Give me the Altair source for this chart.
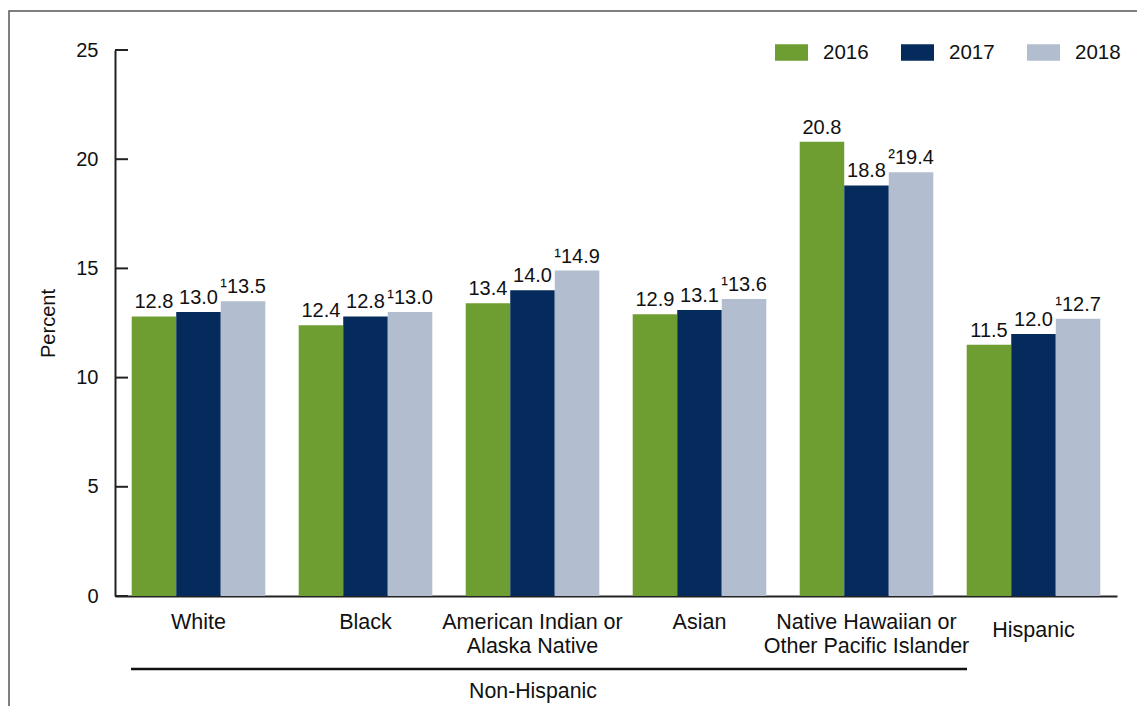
import altair as alt
import pandas as pd

# ---- data ----
categories = ["White", "Black", "American Indian or Alaska Native", "Asian",
              "Native Hawaiian or Other Pacific Islander", "Hispanic"]
label_lines = ["White", "Black", "American Indian or\nAlaska Native", "Asian",
               "Native Hawaiian or\nOther Pacific Islander", "Hispanic"]
years = ["2016", "2017", "2018"]
v2016 = [12.8, 12.4, 13.4, 12.9, 20.8, 11.5]
v2017 = [13.0, 12.8, 14.0, 13.1, 18.8, 12.0]
v2018 = [13.5, 13.0, 14.9, 13.6, 19.4, 12.7]
notes2018 = ["\u00b9", "\u00b9", "\u00b9", "\u00b9", "\u00b2", "\u00b9"]
y_ticks = [0, 5, 10, 15, 20, 25]
colors = ["#6e9d31", "#042b5c", "#b2becf"]

rows = []
for i, c in enumerate(categories):
    for y, vals in zip(years, [v2016, v2017, v2018]):
        lab = f"{vals[i]:.1f}"
        if y == "2018":
            lab = notes2018[i] + lab
        rows.append({"cat": c, "year": y, "value": vals[i], "label": lab})
df = pd.DataFrame(rows)

lab_df = pd.DataFrame({"cat": categories, "text": label_lines})
tick_df = pd.DataFrame({"tick": y_ticks})
one = pd.DataFrame({"a": [0]})

FONT = "Liberation Sans"
xscale = alt.Scale(domain=categories, paddingInner=0.2, paddingOuter=0.1)
yscale = alt.Scale(domain=[0, 25], nice=False)

base = alt.Chart(df)

bars = base.mark_bar().encode(
    x=alt.X("cat:N", scale=xscale, sort=categories, title=None),
    xOffset=alt.XOffset("year:N", sort=years, scale=alt.Scale(paddingInner=0, paddingOuter=0)),
    y=alt.Y("value:Q", scale=yscale, title="Percent",
            axis=alt.Axis(values=y_ticks)),
    color=alt.Color("year:N", sort=years,
                    scale=alt.Scale(domain=years, range=colors),
                    legend=alt.Legend(orient="none", legendX=660, legendY=-14,
                                      direction="horizontal", title=None,
                                      symbolType="M-1,-0.5H1V0.5H-1Z",
                                      symbolSize=1089, symbolStrokeWidth=0,
                                      symbolOpacity=1,
                                      labelFontSize=20.5, labelFont=FONT,
                                      labelColor="#111", labelOffset=15,
                                      columnPadding=32, padding=0)),
)

values = base.mark_text(fontSize=20, font=FONT, color="#111",
                        baseline="alphabetic", dy=-8).encode(
    x=alt.X("cat:N", scale=xscale, sort=categories, title=None),
    xOffset=alt.XOffset("year:N", sort=years),
    y=alt.Y("value:Q", scale=yscale, title="Percent"),
    text="label:N",
)

ticks = alt.Chart(tick_df).mark_rule(color="#222", strokeWidth=2).encode(
    y=alt.Y("tick:Q", scale=yscale, title="Percent"),
    x=alt.value(0), x2=alt.value(13),
)

xl_main = alt.Chart(lab_df).transform_filter(alt.datum.cat != "Hispanic").mark_text(
    fontSize=21.5, font=FONT, color="#111", baseline="alphabetic",
    lineBreak="\n", lineHeight=24).encode(
    x=alt.X("cat:N", scale=xscale, sort=categories, title=None),
    y=alt.value(579), text="text:N")

xl_hisp = alt.Chart(lab_df).transform_filter(alt.datum.cat == "Hispanic").mark_text(
    fontSize=21.5, font=FONT, color="#111", baseline="alphabetic").encode(
    x=alt.X("cat:N", scale=xscale, sort=categories, title=None),
    y=alt.value(587), text="text:N")

bracket = alt.Chart(one).mark_rule(color="#111", strokeWidth=2.3).encode(
    x=alt.value(16), x2=alt.value(852), y=alt.value(619))

nonhisp = alt.Chart(one).mark_text(fontSize=21.3, font=FONT, color="#111",
                                   baseline="alphabetic").encode(
    x=alt.value(418), y=alt.value(648), text=alt.value("Non-Hispanic"))

frame = alt.Chart(one).mark_rect(fill=None, fillOpacity=0, stroke="#555",
                                 strokeWidth=1.5).encode(
    x=alt.value(-106), x2=alt.value(1060), y=alt.value(-39), y2=alt.value(720))

chart = alt.layer(frame, bars, values, ticks, xl_main, xl_hisp, bracket, nonhisp).properties(
    width=1002, height=546,
    padding={"left": 107, "top": 42, "right": 20, "bottom": 110},
    autosize=alt.AutoSizeParams(type="none"),
).configure_view(stroke=None).configure_axisX(
    labels=False, ticks=False, title=None, domainColor="#222", domainWidth=2, grid=False
).configure_axisY(
    ticks=False, grid=False, domainColor="#222", domainWidth=2,
    labelFontSize=20, labelFont=FONT, labelColor="#111", labelPadding=17,
    titleFontSize=20, titleFont=FONT, titleFontWeight="normal", titleColor="#111",
    titleX=-67, titleY=273, titleBaseline="middle", titleAlign="center", titleAngle=270
)

chart.save("out.html", embed_options={"renderer": "svg", "actions": False})
